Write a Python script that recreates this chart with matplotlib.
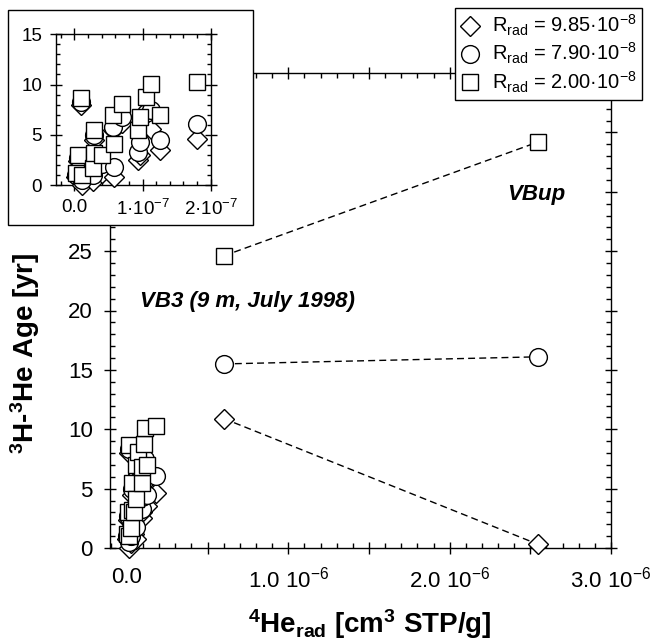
import matplotlib
matplotlib.use("Agg")
import matplotlib.pyplot as plt
from matplotlib.patches import Rectangle
from matplotlib.ticker import MultipleLocator

plt.rcParams['font.family'] = ['Liberation Sans', 'DejaVu Sans']
plt.rcParams['mathtext.default'] = 'regular'

# ---- data ----
# small-He4 cluster (VB3), x in cm3 STP/g
clus_x = [0.10e-7, 0.29e-7, 0.05e-7, 0.025e-7, 0.11e-7, 0.27e-7, 0.29e-7, 0.41e-7, 0.58e-7,
          0.56e-7, 0.70e-7, 0.93e-7, 0.96e-7, 1.05e-7, 1.13e-7, 1.25e-7, 1.80e-7]
clus_D = [8.0, 4.5, 2.4, 0.8, 0.0, 0.4, 2.0, 1.2, 0.8, 5.5, 6.2, 2.5, 3.0, 6.3, 5.6, 3.5, 4.6]
clus_C = [8.3, 5.0, 2.7, 1.0, 0.5, 1.0, 2.6, 2.1, 1.8, 5.8, 6.8, 3.3, 4.3, 7.2, 7.5, 4.5, 6.1]
clus_S = [8.7, 5.5, 3.0, 1.2, 1.0, 1.7, 3.2, 3.0, 4.1, 7.0, 8.1, 5.5, 6.8, 8.8, 10.1, 7.0, 10.3]

# VBup pair (connected by dashed lines)
up_x = [0.60e-6, 2.55e-6]
up_D = [10.9, 0.3]
up_C = [15.5, 16.1]
up_S = [24.6, 34.2]

labels = [r'R$_{rad}$ = 9.85·10$^{-8}$', r'R$_{rad}$ = 7.90·10$^{-8}$', r'R$_{rad}$ = 2.00·10$^{-8}$']
main_xticklabels = ['0.0', r'1.0 10$^{-6}$', r'2.0 10$^{-6}$', r'3.0 10$^{-6}$']
inset_xticks = [0, 1e-7, 2e-7]
inset_xticklabels = ['0.0', r'1·10$^{-7}$', r'2·10$^{-7}$']

W, H = 656, 640
fig = plt.figure(figsize=(W/100, H/100), dpi=100)

def fx(px):
    return px / W
def fy(py):
    return 1 - py / H

ax = fig.add_axes([fx(110), fy(548), fx(611) - fx(110), fy(73) - fy(548)])
ax.set_xlim(-1.05e-7, 3.0e-6)
ax.set_ylim(0, 40)

mk = dict(D=dict(marker='D', ms=10.4), o=dict(marker='o', ms=12.8), s=dict(marker='s', ms=12.0))
style = dict(ls='none', mfc='white', mec='black', mew=1.0, clip_on=False)

# dashed connecting lines
for ys in (up_D, up_C, up_S):
    ax.plot(up_x, ys, ls=(0, (5, 3)), color='black', lw=1.0, zorder=2)

hD, = ax.plot(clus_x + up_x, clus_D + up_D, **mk['D'], **style, zorder=3)
hC, = ax.plot(clus_x + up_x, clus_C + up_C, **mk['o'], **style, zorder=4)
hS, = ax.plot(clus_x + up_x, clus_S + up_S, **mk['s'], **style, zorder=5)

ax.set_xticks([i * 0.5e-6 for i in range(7)])
ax.set_xticklabels([main_xticklabels[i // 2] if i % 2 == 0 else '' for i in range(7)])
ax.xaxis.set_minor_locator(MultipleLocator(0.1e-6))
ax.yaxis.set_major_locator(MultipleLocator(5))
ax.yaxis.set_minor_locator(MultipleLocator(1))
ax.tick_params(which='major', direction='inout', length=9, width=1.0, labelsize=16,
               top=True, right=True)
ax.tick_params(which='minor', direction='in', length=3.5, width=1.0, top=True, right=True)
ax.tick_params(axis='x', which='major', pad=9)
ax.tick_params(axis='y', which='major', pad=8)
for sp in ax.spines.values():
    sp.set_linewidth(1.0)

ax.set_xlabel(r'$^4$He$_{rad}$ [cm$^3$ STP/g]', fontsize=20, fontweight='bold')
ax.set_ylabel(r'$^3$H-$^3$He Age [yr]', fontsize=20, fontweight='bold')
ax.xaxis.set_label_coords(0.5 + 9 / 501, (548 - 607) / 475)
ax.yaxis.set_label_coords((42 - 110) / 501, (548 - 353) / 475)

ax.text(2.535e-6, 29.8, 'VBup', fontsize=16, fontweight='bold', fontstyle='italic',
        ha='center', va='center')
ax.text(0.08e-6, 20.8, 'VB3 (9 m, July 1998)', fontsize=16, fontweight='bold',
        fontstyle='italic', ha='left', va='center')

# legend
leg = fig.legend([hD, hC, hS], labels, loc='upper right',
                 bbox_to_anchor=(fx(642), fy(8)), borderaxespad=0, fancybox=False,
                 edgecolor='black', framealpha=1, fontsize=14.5, handlelength=1.0,
                 handletextpad=0.6, labelspacing=0.15, borderpad=0.25)
leg.get_frame().set_linewidth(1.0)

# inset frame
frame = Rectangle((fx(8), fy(225)), fx(253) - fx(8), fy(10) - fy(225), transform=fig.transFigure,
                  facecolor='white', edgecolor='black', lw=1.0, zorder=5)
fig.patches.append(frame)

ins = fig.add_axes([fx(56), fy(185), fx(210.7) - fx(56), fy(34.3) - fy(185)], zorder=6)
ins.set_xlim(-0.27e-7, 2.0e-7)
ins.set_ylim(0, 15)
ins.plot(clus_x, clus_D, **mk['D'], **style, zorder=3)
ins.plot(clus_x, clus_C, **mk['o'], **style, zorder=4)
ins.plot(clus_x, clus_S, **mk['s'], **style, zorder=5)
ins.set_xticks(inset_xticks)
ins.set_xticklabels(inset_xticklabels)
ins.xaxis.set_minor_locator(MultipleLocator(0.2e-7))
ins.yaxis.set_major_locator(MultipleLocator(5))
ins.yaxis.set_minor_locator(MultipleLocator(1))
ins.tick_params(which='major', direction='inout', length=8, width=1.0, labelsize=13.5,
                top=True, right=True)
ins.tick_params(which='minor', direction='in', length=3, width=1.0, top=True, right=True)
ins.tick_params(axis='x', which='major', pad=6)
ins.tick_params(axis='y', which='major', pad=6)
for sp in ins.spines.values():
    sp.set_linewidth(1.0)

fig.savefig('out.png', dpi=100)
